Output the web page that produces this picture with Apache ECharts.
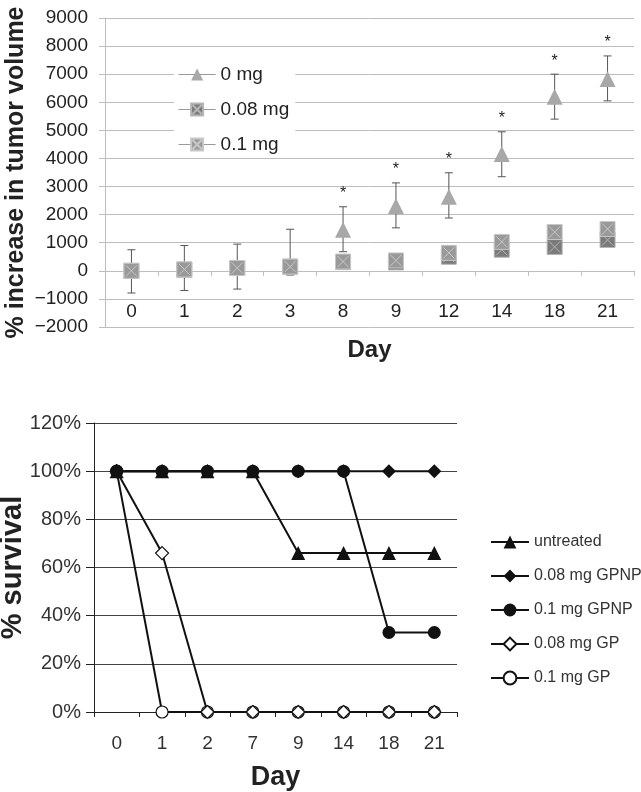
<!DOCTYPE html>
<html>
<head>
<meta charset="utf-8">
<script src="https://cdn.jsdelivr.net/npm/echarts@6/dist/echarts.min.js"></script>
<style>
html,body{margin:0;padding:0;background:#fff;}
#c{width:641px;height:792px;}
</style>
</head>
<body>
<div id="c"></div>
<script>
// ---- Top chart data ----
const topDays = ['0','1','2','3','8','9','12','14','18','21'];
const mg0 = [0, 40, 100, 150, 1460, 2310, 2640, 4160, 6200, 6830];
const mg0Low = [-790, -700, -650, -150, 680, 1530, 1880, 3350, 5400, 6050];
const mg0High = [750, 900, 950, 1480, 2280, 3130, 3490, 4950, 7000, 7650];
const mg0Sig = [0, 0, 0, 0, 1, 1, 1, 1, 1, 1];
const mg008 = [0, 50, 100, 150, 310, 300, 500, 750, 850, 1100];
const mg01 = [0, 50, 100, 150, 330, 370, 640, 1030, 1380, 1490];
const topYTicks = {min: -2000, max: 9000, step: 1000};

// ---- Bottom chart data ----
const survDays = ['0','1','2','7','9','14','18','21'];
const untreated = [100, 100, 100, 100, 66, 66, 66, 66];
const gpnp008 = [100, 100, 100, 100, 100, 100, 100, 100];
const gpnp01 = [100, 100, 100, 100, 100, 100, 33, 33];
const gp008 = [100, 66, 0, 0, 0, 0, 0, 0];
const gp01 = [100, 0, 0, 0, 0, 0, 0, 0];
const survYTicks = {min: 0, max: 120, step: 20};

const FONT = 'Liberation Sans, Arial, sans-serif';
const sqPath = 'path://M0,0H16V16H0Z M2,2L14,14 M14,2L2,14';

const errData = mg0.map((v, i) => [i, mg0Low[i], mg0High[i], mg0Sig[i]]);

const chart = echarts.init(document.getElementById('c'), null, {renderer: 'canvas'});
chart.setOption({
  animation: false,
  backgroundColor: '#fff',
  textStyle: {fontFamily: FONT},
  grid: [
    {left: 105, right: 7, top: 18, bottom: 465, outerBoundsMode: 'none', containLabel: false},
    {left: 94, right: 184, top: 423, bottom: 80, outerBoundsMode: 'none', containLabel: false}
  ],
  legend: [
    {
      data: ['0 mg', '0.08 mg', '0.1 mg'],
      orient: 'vertical', left: 174, top: 56,
      backgroundColor: '#fff', padding: [9, 6, 4, 4],
      itemWidth: 37, itemHeight: 15, itemGap: 16,
      textStyle: {fontSize: 19, color: '#222', fontFamily: FONT},
      lineStyle: {width: 1.2, color: '#999', opacity: 1}
    },
    {
      data: ['untreated', '0.08 mg GPNP', '0.1 mg GPNP', '0.08 mg GP', '0.1 mg GP'],
      orient: 'vertical', left: 485, top: 529,
      itemWidth: 38, itemHeight: 16, itemGap: 18,
      textStyle: {fontSize: 16, color: '#333', fontFamily: FONT},
      lineStyle: {width: 2, color: '#111'}
    }
  ],
  xAxis: [
    {
      gridIndex: 0, type: 'category', data: topDays, boundaryGap: true,
      axisLine: {show: true, onZero: true, lineStyle: {color: '#bdbdbd', width: 1}},
      axisTick: {show: true, interval: 0, length: 5, lineStyle: {color: '#bdbdbd'}},
      axisLabel: {interval: 0, inside: true, margin: 6, fontSize: 19, color: '#222', fontFamily: FONT},
      name: 'Day', nameLocation: 'middle', nameGap: 11, nameMoveOverlap: false,
      nameTextStyle: {fontSize: 24, fontWeight: 'bold', color: '#222', fontFamily: FONT}
    },
    {
      gridIndex: 1, type: 'category', data: survDays, boundaryGap: true,
      axisLine: {onZero: false, lineStyle: {color: '#222', width: 1}},
      axisTick: {show: true, interval: 0, length: 5, lineStyle: {color: '#222'}},
      axisLabel: {interval: 0, margin: 22, fontSize: 19, color: '#333', fontFamily: FONT},
      name: 'Day', nameLocation: 'middle', nameGap: 52, nameMoveOverlap: false,
      nameTextStyle: {fontSize: 27, fontWeight: 'bold', color: '#222', fontFamily: FONT}
    }
  ],
  yAxis: [
    {
      gridIndex: 0, type: 'value', min: topYTicks.min, max: topYTicks.max, interval: topYTicks.step,
      axisLine: {show: true, onZero: false, lineStyle: {color: '#bdbdbd'}},
      axisTick: {show: true, length: 6, lineStyle: {color: '#bdbdbd'}},
      splitLine: {show: true, lineStyle: {color: '#bdbdbd', width: 1}},
      axisLabel: {margin: 17, fontSize: 19, color: '#222', fontFamily: FONT,
        formatter: v => String(v).replace('-', '\u2212')},
      name: '% increase in tumor volume', nameLocation: 'middle', nameGap: 76, nameMoveOverlap: false,
      nameTextStyle: {fontSize: 25, fontWeight: 'bold', color: '#222', fontFamily: FONT}
    },
    {
      gridIndex: 1, type: 'value', min: survYTicks.min, max: survYTicks.max, interval: survYTicks.step,
      axisLine: {show: true, onZero: false, lineStyle: {color: '#222'}},
      axisTick: {show: true, length: 8, lineStyle: {color: '#222'}},
      splitLine: {show: true, lineStyle: {color: '#444', width: 1}},
      axisLabel: {margin: 13, fontSize: 20, color: '#333', fontFamily: FONT, formatter: '{value}%'},
      name: '% survival', nameLocation: 'middle', nameGap: 67, nameMoveOverlap: false,
      nameTextStyle: {fontSize: 29, fontWeight: 'bold', color: '#222', fontFamily: FONT}
    }
  ],
  series: [
    {
      type: 'custom', xAxisIndex: 0, yAxisIndex: 0, z: 1, silent: true,
      data: errData,
      renderItem: function (params, api) {
        const x = api.coord([api.value(0), 0])[0];
        const lo = api.coord([api.value(0), api.value(1)])[1];
        const hi = api.coord([api.value(0), api.value(2)])[1];
        const c = '#555';
        const children = [
          {type: 'line', shape: {x1: x, y1: lo, x2: x, y2: hi}, style: {stroke: c, lineWidth: 1}},
          {type: 'line', shape: {x1: x - 4, y1: lo, x2: x + 4, y2: lo}, style: {stroke: c, lineWidth: 1}},
          {type: 'line', shape: {x1: x - 4, y1: hi, x2: x + 4, y2: hi}, style: {stroke: c, lineWidth: 1}}
        ];
        if (api.value(3)) {
          children.push({type: 'text', style: {text: '*', x: x, y: hi - 5, textAlign: 'center',
            textVerticalAlign: 'bottom', font: '16px ' + FONT, fill: '#222'}});
        }
        return {type: 'group', children: children};
      }
    },
    {
      name: '0 mg', type: 'line', xAxisIndex: 0, yAxisIndex: 0, z: 3, data: mg0,
      symbol: 'triangle', symbolSize: 16,
      itemStyle: {color: '#a8a8a8'}, lineStyle: {width: 0, opacity: 0}
    },
    {
      name: '0.08 mg', type: 'line', xAxisIndex: 0, yAxisIndex: 0, z: 4, data: mg008,
      symbol: sqPath, symbolSize: 15,
      itemStyle: {color: '#7a7a7a', borderColor: '#b5b5b5', borderWidth: 1}, lineStyle: {width: 0, opacity: 0}
    },
    {
      name: '0.1 mg', type: 'line', xAxisIndex: 0, yAxisIndex: 0, z: 5, data: mg01,
      symbol: sqPath, symbolSize: 15,
      itemStyle: {color: '#999999', borderColor: '#c8c8c8', borderWidth: 1}, lineStyle: {width: 0, opacity: 0}
    },
    {
      name: '0.1 mg GP', type: 'line', xAxisIndex: 1, yAxisIndex: 1, data: gp01, z: 2,
      symbol: 'circle', symbolSize: 12, showAllSymbol: true,
      itemStyle: {color: '#fff', borderColor: '#111', borderWidth: 1.2}, lineStyle: {width: 2, color: '#111'}
    },
    {
      name: '0.08 mg GP', type: 'line', xAxisIndex: 1, yAxisIndex: 1, data: gp008, z: 3,
      symbol: 'diamond', symbolSize: 13, showAllSymbol: true,
      itemStyle: {color: '#fff', borderColor: '#111', borderWidth: 1.2}, lineStyle: {width: 2, color: '#111'}
    },
    {
      name: 'untreated', type: 'line', xAxisIndex: 1, yAxisIndex: 1, data: untreated, z: 4,
      symbol: 'triangle', symbolSize: 14, showAllSymbol: true,
      itemStyle: {color: '#111'}, lineStyle: {width: 2, color: '#111'}
    },
    {
      name: '0.08 mg GPNP', type: 'line', xAxisIndex: 1, yAxisIndex: 1, data: gpnp008, z: 5,
      symbol: 'diamond', symbolSize: 14, showAllSymbol: true,
      itemStyle: {color: '#111'}, lineStyle: {width: 2, color: '#111'}
    },
    {
      name: '0.1 mg GPNP', type: 'line', xAxisIndex: 1, yAxisIndex: 1, data: gpnp01, z: 6,
      symbol: 'circle', symbolSize: 13, showAllSymbol: true,
      itemStyle: {color: '#111'}, lineStyle: {width: 2, color: '#111'}
    }
  ]
});
</script>
</body>
</html>
